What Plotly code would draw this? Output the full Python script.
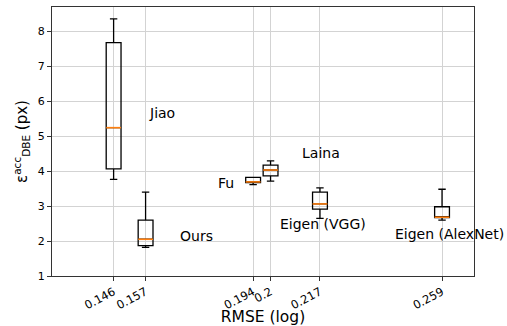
import plotly.graph_objects as go

methods = ["Jiao", "Ours", "Fu", "Laina", "Eigen (VGG)", "Eigen (AlexNet)"]
rmse = [0.146, 0.157, 0.194, 0.2, 0.217, 0.259]
lower_whisker = [3.76, 1.82, 3.61, 3.71, 2.65, 2.60]
q1 = [4.06, 1.87, 3.67, 3.86, 2.91, 2.67]
median = [5.24, 2.05, 3.69, 4.03, 3.06, 2.68]
q3 = [7.67, 2.60, 3.82, 4.17, 3.40, 2.98]
upper_whisker = [8.35, 3.40, 3.82, 4.29, 3.52, 3.48]
tick_labels = ["0.146", "0.157", "0.194", "0.2", "0.217", "0.259"]

# label anchor positions (layout, not data)
label_x = [0.1576, 0.1681, 0.1812, 0.2101, 0.2027, 0.2420]
label_y = [5.65, 2.14, 3.65, 4.51, 2.48, 2.20]

BW = 0.0051
fig = go.Figure()
for i in range(len(methods)):
    fig.add_trace(go.Box(
        x=[rmse[i]], q1=[q1[i]], median=[median[i]], q3=[q3[i]],
        lowerfence=[lower_whisker[i]], upperfence=[upper_whisker[i]],
        width=BW, whiskerwidth=0.5, fillcolor="rgba(0,0,0,0)",
        line=dict(color="black", width=1.3), showlegend=False,
        hoverinfo="skip", boxpoints=False))
for i in range(len(methods)):
    fig.add_trace(go.Scatter(
        x=[rmse[i] - BW / 2, rmse[i] + BW / 2], y=[median[i], median[i]],
        mode="lines", line=dict(color="#ff7f0e", width=1.6),
        showlegend=False, hoverinfo="skip"))

for m, lx, ly in zip(methods, label_x, label_y):
    fig.add_annotation(x=lx, y=ly, text=m, showarrow=False, xanchor="left",
                       yanchor="middle", font=dict(size=14, color="black"))

fig.update_layout(
    width=507, height=326,
    margin=dict(l=52, r=33, t=7, b=50),
    paper_bgcolor="white", plot_bgcolor="white",
    font=dict(family="DejaVu Sans", color="black"),
)
fig.update_xaxes(
    automargin=False,
    range=[0.1248, 0.2700], tickmode="array", tickvals=rmse, ticktext=tick_labels,
    tickangle=-28, tickfont=dict(size=11.5), showgrid=True, gridcolor="#d3d3d3",
    gridwidth=1, showline=True, linecolor="#333", mirror=True, ticks="outside",
    ticklen=4, tickcolor="#333", zeroline=False,
    title=dict(text="RMSE (log)", font=dict(size=15.5), standoff=2))
fig.update_yaxes(
    automargin=False,
    range=[1, 8.69], tickmode="array", tickvals=[1, 2, 3, 4, 5, 6, 7, 8],
    tickfont=dict(size=11), showgrid=True, gridcolor="#d3d3d3", gridwidth=1,
    showline=True, linecolor="#333", mirror=True, ticks="outside", ticklen=4,
    tickcolor="#333", zeroline=False,
    title=dict(text="ε<sup>acc</sup><sub>DBE</sub> (px)", font=dict(size=15), standoff=6))

fig.write_html("out.html", config={"displayModeBar": False},
               post_script="document.body.style.margin='0px';")
